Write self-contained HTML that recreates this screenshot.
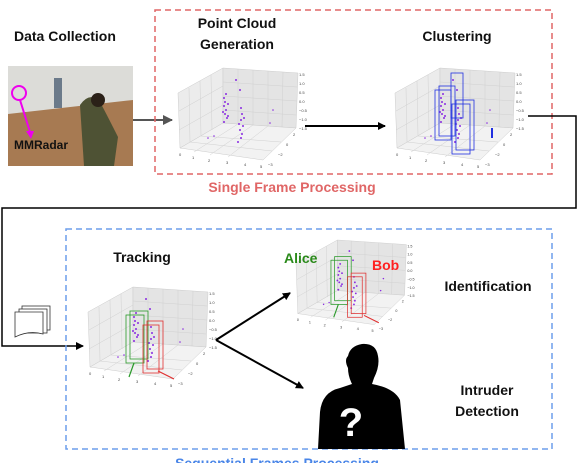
<!DOCTYPE html>
<html><head><meta charset="utf-8"><style>
body{margin:0;background:#fff;width:580px;height:463px;overflow:hidden}
svg{display:block}
text{font-family:"Liberation Sans",sans-serif;font-weight:bold}
.t{font-size:14px;fill:#111}
.ax{font-size:4px;font-weight:normal;fill:#444}
</style></head><body>
<svg width="580" height="463" viewBox="0 0 580 463">
<defs>
<marker id="ah" markerWidth="8" markerHeight="8" refX="7" refY="4" orient="auto" markerUnits="userSpaceOnUse"><path d="M0,0L8,4L0,8z" fill="#000"/></marker>
<marker id="ahg" markerWidth="10" markerHeight="10" refX="9" refY="5" orient="auto" markerUnits="userSpaceOnUse"><path d="M0,0L10,5L0,10z" fill="#555"/></marker>
<g id="plot">
  <path d="M0,25 L45,0 L45,55 L2,80z" fill="#ececec" stroke="#ccc" stroke-width="0.5"/>
  <path d="M45,0 L120,5 L118,60 L45,55z" fill="#e4e4e4" stroke="#ccc" stroke-width="0.5"/>
  <path d="M2,80 L45,55 L118,60 L85,92z" fill="#f2f2f2" stroke="#ccc" stroke-width="0.5"/>
  <g stroke="#d0d0d0" stroke-width="0.5">
    <line x1="60" y1="1" x2="60" y2="56"/><line x1="75" y1="2" x2="75" y2="57"/><line x1="90" y1="3" x2="90" y2="58"/><line x1="105" y1="4" x2="104" y2="59"/>
    <line x1="45" y1="14" x2="119" y2="19"/><line x1="45" y1="28" x2="119" y2="33"/><line x1="45" y1="42" x2="118" y2="47"/>
    <line x1="11" y1="20" x2="12" y2="74"/><line x1="22" y1="13" x2="23" y2="68"/><line x1="33" y1="7" x2="34" y2="62"/>
    <line x1="1" y1="43" x2="45" y2="18"/><line x1="1" y1="62" x2="45" y2="37"/>
    <line x1="16" y1="84" x2="60" y2="56"/><line x1="32" y1="87" x2="75" y2="57"/><line x1="50" y1="89" x2="90" y2="58"/>
    <line x1="12" y1="74" x2="94" y2="83"/><line x1="23" y1="68" x2="103" y2="74"/>
  </g>
  <text class="ax" x="121" y="8">1.5</text><text class="ax" x="121" y="17">1.0</text><text class="ax" x="121" y="26">0.5</text><text class="ax" x="121" y="35">0.0</text><text class="ax" x="121" y="44">−0.5</text><text class="ax" x="121" y="53">−1.0</text><text class="ax" x="121" y="62">−1.5</text>
  <text class="ax" x="1" y="88">0</text><text class="ax" x="14" y="91">1</text><text class="ax" x="30" y="94">2</text><text class="ax" x="48" y="96">3</text><text class="ax" x="66" y="98">4</text><text class="ax" x="82" y="100">5</text>
  <text class="ax" x="90" y="98">−3</text><text class="ax" x="100" y="88">−2</text><text class="ax" x="108" y="78">0</text><text class="ax" x="115" y="68">2</text>
</g>
<g id="pts" fill="#8a2be2">
  <circle cx="46" cy="30" r="1"/><circle cx="47" cy="34" r="1"/><circle cx="46" cy="38" r="1"/><circle cx="48" cy="42" r="1"/><circle cx="47" cy="46" r="1"/><circle cx="49" cy="50" r="1"/><circle cx="46" cy="54" r="1"/><circle cx="48" cy="26" r="1"/><circle cx="50" cy="36" r="1"/><circle cx="45" cy="44" r="1"/><circle cx="50" cy="48" r="1"/>
  <circle cx="62" cy="22" r="1"/><circle cx="63" cy="40" r="1"/><circle cx="64" cy="46" r="1"/><circle cx="63" cy="52" r="1"/><circle cx="65" cy="58" r="1"/><circle cx="62" cy="62" r="1"/><circle cx="64" cy="66" r="1"/><circle cx="63" cy="70" r="1"/><circle cx="61" cy="56" r="1"/><circle cx="66" cy="50" r="1"/><circle cx="60" cy="74" r="1"/><circle cx="58" cy="12" r="1"/>
  <circle cx="30" cy="70" r="0.8"/><circle cx="36" cy="68" r="0.8"/><circle cx="92" cy="55" r="0.8"/><circle cx="95" cy="42" r="0.8"/>
</g>
</defs>

<!-- Data collection -->
<text class="t" x="14" y="41">Data Collection</text>
<rect x="8" y="66" width="125" height="100" fill="#8a6a4a"/>
<rect x="8" y="66" width="125" height="48" fill="#dcdcd8"/>
<path d="M8,114 L133,100 L133,166 L8,166z" fill="#a77a52"/>
<path d="M80,105 q10,-14 20,-3 q8,15 18,35 l-4,29 h-30 z" fill="#4e5234"/>
<circle cx="98" cy="100" r="7" fill="#2b2118"/>
<rect x="54" y="78" width="8" height="30" fill="#6b7a8a"/>
<circle cx="19" cy="93" r="7" fill="none" stroke="#ee00ee" stroke-width="2"/>
<line x1="20" y1="100" x2="30" y2="132" stroke="#ee00ee" stroke-width="2"/>
<path d="M26,131 L34,131 L31,139z" fill="#ee00ee"/>
<text x="14" y="149" font-size="12" fill="#111">MMRadar</text>

<line x1="133" y1="120" x2="172" y2="120" stroke="#555" stroke-width="2" marker-end="url(#ahg)"/>

<!-- Red box -->
<rect x="155" y="10" width="397" height="164" fill="none" stroke="#e06666" stroke-width="1.5" stroke-dasharray="6,4"/>
<text class="t" x="237" y="28" text-anchor="middle">Point Cloud</text>
<text class="t" x="237" y="49" text-anchor="middle">Generation</text>
<text class="t" x="457" y="41" text-anchor="middle">Clustering</text>
<text x="292" y="192" font-size="14" fill="#e06666" text-anchor="middle">Single Frame Processing</text>

<g transform="translate(178,68)"><use href="#plot"/><use href="#pts"/></g>
<line x1="305" y1="126" x2="385" y2="126" stroke="#000" stroke-width="2" marker-end="url(#ah)"/>
<g transform="translate(395,68)"><use href="#plot"/><use href="#pts"/>
 <g fill="none" stroke="#2030e0" stroke-width="0.8">
  <rect x="40" y="22" width="16" height="50"/><rect x="44" y="18" width="16" height="50"/>
  <rect x="56" y="5" width="12" height="45"/>
  <rect x="57" y="36" width="18" height="50"/><rect x="61" y="32" width="18" height="50"/>
  <line x1="97" y1="60" x2="97" y2="70" stroke-width="2"/>
 </g></g>

<!-- Connector -->
<polyline points="528,116 576,116 576,208 2,208 2,346 83,346" fill="none" stroke="#000" stroke-width="1.5" marker-end="url(#ah)"/>

<!-- docs icon -->
<rect x="22" y="306" width="28" height="24" fill="#fff" stroke="#333" stroke-width="0.8"/>
<rect x="19" y="309" width="28" height="24" fill="#fff" stroke="#333" stroke-width="0.8"/>
<path d="M15,312 h28 v22 q-14,-4 -28,3z" fill="#fff" stroke="#333" stroke-width="0.8"/>

<!-- Blue box -->
<rect x="66" y="229" width="486" height="220" fill="none" stroke="#6d9eeb" stroke-width="1.5" stroke-dasharray="6,4"/>
<text x="277" y="468" font-size="14" fill="#4a86e8" text-anchor="middle">Sequential Frames Processing</text>
<text class="t" x="142" y="262" text-anchor="middle">Tracking</text>
<text class="t" x="488" y="291" text-anchor="middle">Identification</text>
<text class="t" x="487" y="395" text-anchor="middle">Intruder</text>
<text class="t" x="487" y="416" text-anchor="middle">Detection</text>

<g transform="translate(88,287)"><use href="#plot"/><use href="#pts"/>
 <g fill="none" stroke-width="0.8"><rect x="38" y="28" width="18" height="48" stroke="#2a9a2a"/><rect x="42" y="24" width="18" height="48" stroke="#2a9a2a"/>
 <rect x="55" y="38" width="16" height="48" stroke="#e03030"/><rect x="59" y="34" width="16" height="48" stroke="#e03030"/></g>
 <line x1="46" y1="76" x2="41" y2="90" stroke="#2a9a2a" stroke-width="1.2"/>
 <line x1="70" y1="84" x2="86" y2="92" stroke="#e03030" stroke-width="1.2"/></g>

<line x1="216" y1="340" x2="290" y2="293" stroke="#000" stroke-width="2" marker-end="url(#ah)"/>
<line x1="216" y1="340" x2="303" y2="388" stroke="#000" stroke-width="2" marker-end="url(#ah)"/>

<g transform="translate(296,240) scale(0.92)"><use href="#plot"/><use href="#pts"/>
 <g fill="none" stroke-width="0.8"><rect x="38" y="22" width="18" height="48" stroke="#2a9a2a"/><rect x="42" y="18" width="18" height="48" stroke="#2a9a2a"/>
 <rect x="56" y="40" width="16" height="44" stroke="#e03030"/><rect x="60" y="36" width="16" height="44" stroke="#e03030"/></g>
 <line x1="46" y1="70" x2="41" y2="84" stroke="#2a9a2a" stroke-width="1.2"/>
 <line x1="74" y1="82" x2="90" y2="90" stroke="#e03030" stroke-width="1.2"/></g>
<text x="284" y="263" font-size="14" fill="#2a8a1a">Alice</text>
<text x="372" y="270" font-size="14" fill="#ff2020">Bob</text>

<!-- Silhouette -->
<path d="M318,449 L320,412 Q322,392 340,388 L352,384 Q348,376 348,368 Q344,360 348,356 Q350,346 362,344 Q376,343 378,356 Q380,366 374,378 L372,384 Q394,388 400,400 L405,449z" fill="#000"/>
<text x="351" y="436" font-size="40" fill="#fff" text-anchor="middle">?</text>
</svg>
</body></html>
